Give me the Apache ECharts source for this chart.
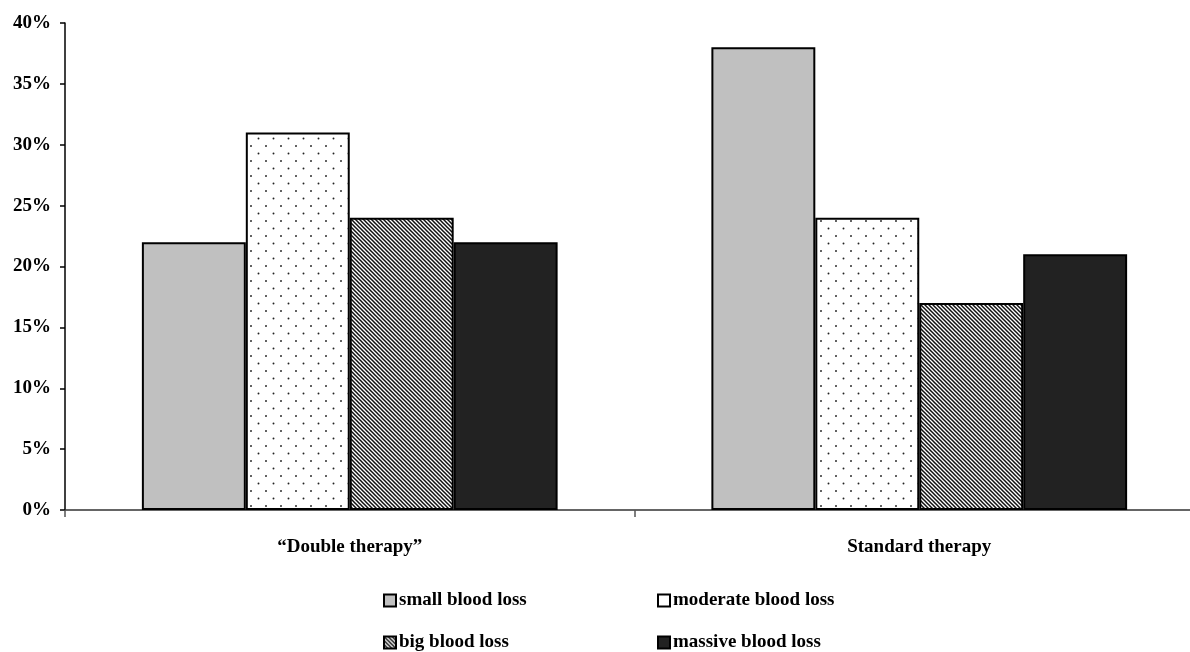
<!DOCTYPE html>
<html>
<head>
<meta charset="utf-8">
<script src="https://cdn.jsdelivr.net/npm/echarts@6/dist/echarts.min.js"></script>
<style>html,body{margin:0;padding:0;background:#fff}#c{width:1190px;height:652px}</style>
</head>
<body>
<div id="c"></div>
<script>
const categories = ['\u201CDouble therapy\u201D', 'Standard therapy'];
const seriesNames = ['small blood loss', 'moderate blood loss', 'big blood loss', 'massive blood loss'];
const smallLoss = [22, 38];
const moderateLoss = [31, 24];
const bigLoss = [24, 17];
const massiveLoss = [22, 21];
const yTicks = [0, 5, 10, 15, 20, 25, 30, 35, 40];

function dotPattern() {
  const c = document.createElement('canvas');
  c.width = 15; c.height = 15;
  const g = c.getContext('2d');
  g.fillStyle = '#fff'; g.fillRect(0, 0, 15, 15);
  g.fillStyle = '#222';
  g.beginPath(); g.arc(3.5, 3.5, 0.95, 0, Math.PI * 2); g.fill();
  g.beginPath(); g.arc(11, 11, 0.95, 0, Math.PI * 2); g.fill();
  return c;
}
function hatchPattern() {
  const s = 4;
  const c = document.createElement('canvas');
  c.width = s; c.height = s;
  const g = c.getContext('2d');
  g.fillStyle = '#fff'; g.fillRect(0, 0, s, s);
  g.strokeStyle = '#111'; g.lineWidth = 1.5;
  g.beginPath();
  g.moveTo(-1, -1); g.lineTo(s + 1, s + 1);
  g.moveTo(-1 - s, -1); g.lineTo(1, s + 1);
  g.moveTo(s - 1, -1); g.lineTo(2 * s + 1, s + 1);
  g.stroke();
  return c;
}

const fills = [
  '#c0c0c0',
  { image: dotPattern(), repeat: 'repeat' },
  { image: hatchPattern(), repeat: 'repeat' },
  '#222222'
];
const legendFills = ['#c0c0c0', '#ffffff', { image: hatchPattern(), repeat: 'repeat' }, '#222222'];
const dataSets = [smallLoss, moderateLoss, bigLoss, massiveLoss];

const chart = echarts.init(document.getElementById('c'), null, { renderer: 'canvas' });
const font = '"Liberation Serif", "Times New Roman", serif';
const legendPos = [[383, 591], [657, 591], [383, 633], [657, 633]];

chart.setOption({
  animation: false,
  backgroundColor: '#fff',
  grid: { left: 65, top: 23, width: 1139, height: 487, outerBoundsMode: 'none', containLabel: false },
  xAxis: {
    type: 'category',
    data: categories,
    axisLine: { lineStyle: { color: '#333', width: 1.5 } },
    axisTick: { show: true, length: 7, lineStyle: { color: '#555', width: 1.5 } },
    axisLabel: { color: '#000', fontFamily: font, fontWeight: 'bold', fontSize: 19, margin: 28 }
  },
  yAxis: {
    type: 'value',
    min: 0, max: 40, interval: 5,
    splitLine: { show: false },
    axisLine: { show: true, lineStyle: { color: '#000', width: 1.5 } },
    axisTick: { show: true, length: 5, lineStyle: { color: '#000', width: 1.5 } },
    axisLabel: {
      color: '#000', fontFamily: font, fontWeight: 'bold', fontSize: 19, margin: 14,
      formatter: v => (yTicks.indexOf(v) >= 0 ? v + '%' : '')
    }
  },
  legend: seriesNames.map((n, i) => ({
    data: [{ name: n, itemStyle: { color: legendFills[i], borderColor: '#000', borderWidth: 2 } }],
    left: legendPos[i][0], top: legendPos[i][1],
    icon: 'rect', itemWidth: 12, itemHeight: 12, itemGap: 0,
    padding: 0,
    textStyle: { color: '#000', fontFamily: font, fontWeight: 'bold', fontSize: 19, padding: [0, 0, 0, -2] }
  })),
  series: seriesNames.map((n, i) => ({
    name: n,
    type: 'bar',
    data: dataSets[i],
    barGap: '0%',
    barCategoryGap: '27%',
    itemStyle: { color: fills[i], borderColor: '#000', borderWidth: 2 }
  }))
});
</script>
</body>
</html>
